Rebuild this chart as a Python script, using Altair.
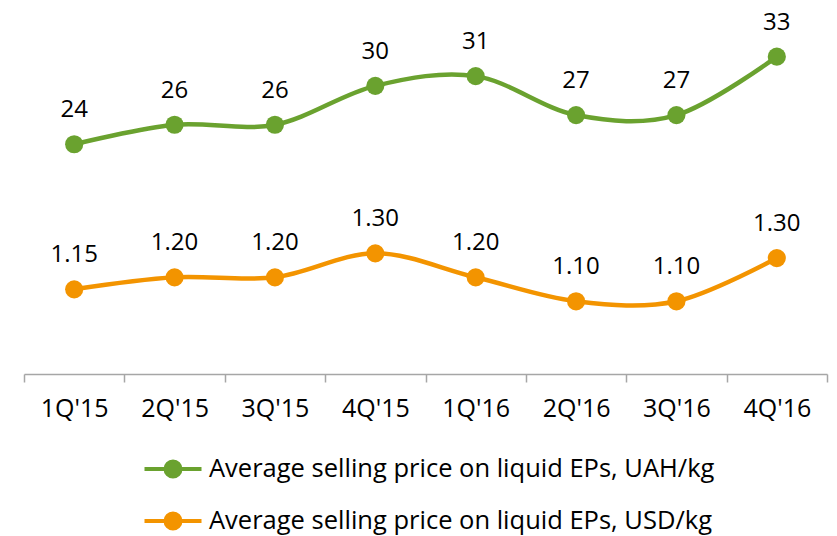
import altair as alt
import pandas as pd

quarters = ["1Q'15", "2Q'15", "3Q'15", "4Q'15", "1Q'16", "2Q'16", "3Q'16", "4Q'16"]
uah_values = [24, 26, 26, 30, 31, 27, 27, 33]
uah_labels = ["24", "26", "26", "30", "31", "27", "27", "33"]
usd_values = [1.15, 1.20, 1.20, 1.30, 1.20, 1.10, 1.10, 1.28]
usd_labels = ["1.15", "1.20", "1.20", "1.30", "1.20", "1.10", "1.10", "1.30"]
series_names = ["Average selling price on liquid EPs, UAH/kg",
                "Average selling price on liquid EPs, USD/kg"]
colors = ["#6aa22f", "#f39400"]

uah_df = pd.DataFrame({"quarter": quarters, "value": uah_values,
                       "label": uah_labels, "series": series_names[0]})
usd_df = pd.DataFrame({"quarter": quarters, "value": usd_values,
                       "label": usd_labels, "series": series_names[1]})

FONT = "Open Sans"
x_enc = alt.X("quarter:N", sort=quarters, title=None,
              scale=alt.Scale(paddingInner=0, paddingOuter=0),
              axis=alt.Axis(tickBand="extent", labelAngle=0, labelFontSize=25,
                            labelFont=FONT, labelColor="#000000", labelPadding=14,
                            domainColor="#a6a6a6", tickColor="#a6a6a6",
                            tickSize=8, domainWidth=1.5, tickWidth=1.5, grid=False))
color_enc = alt.Color("series:N", scale=alt.Scale(domain=series_names, range=colors),
                      legend=alt.Legend(title=None, orient="none", legendX=132, legendY=436,
                                        direction="vertical", labelFontSize=25.5, labelFont=FONT,
                                        labelColor="#000000", labelLimit=0, labelOffset=19,
                                        symbolType="M-1.9,0L1.9,0M-0.5,0A0.5,0.5,0,1,1,0.5,0A0.5,0.5,0,1,1,-0.5,0Z",
                                        symbolSize=900, symbolStrokeWidth=4,
                                        rowPadding=19, padding=0))


def series_layers(df, domain):
    base = alt.Chart(df).encode(
        x=x_enc,
        y=alt.Y("value:Q", scale=alt.Scale(domain=domain, zero=False, nice=False), axis=None),
    )
    line = base.mark_line(interpolate="cardinal", strokeWidth=4.5).encode(color=color_enc)
    pts = base.mark_circle(size=330, opacity=1).encode(color=color_enc)
    txt = base.mark_text(font=FONT, fontSize=24, baseline="alphabetic", dy=-27,
                         color="#000000").encode(text="label:N")
    return alt.layer(line, pts, txt)


green = series_layers(uah_df, [0.39, 37.18])
orange = series_layers(usd_df, [0.797, 2.289])

chart = alt.layer(green, orange).resolve_scale(y="independent").properties(
    width=803, height=358,
    padding={"left": 16, "top": 8, "right": 2, "bottom": 162},
    autosize=alt.AutoSizeParams(type="none"),
).configure_view(stroke=None)

chart.save("out.html", embed_options={"renderer": "svg", "actions": False})
